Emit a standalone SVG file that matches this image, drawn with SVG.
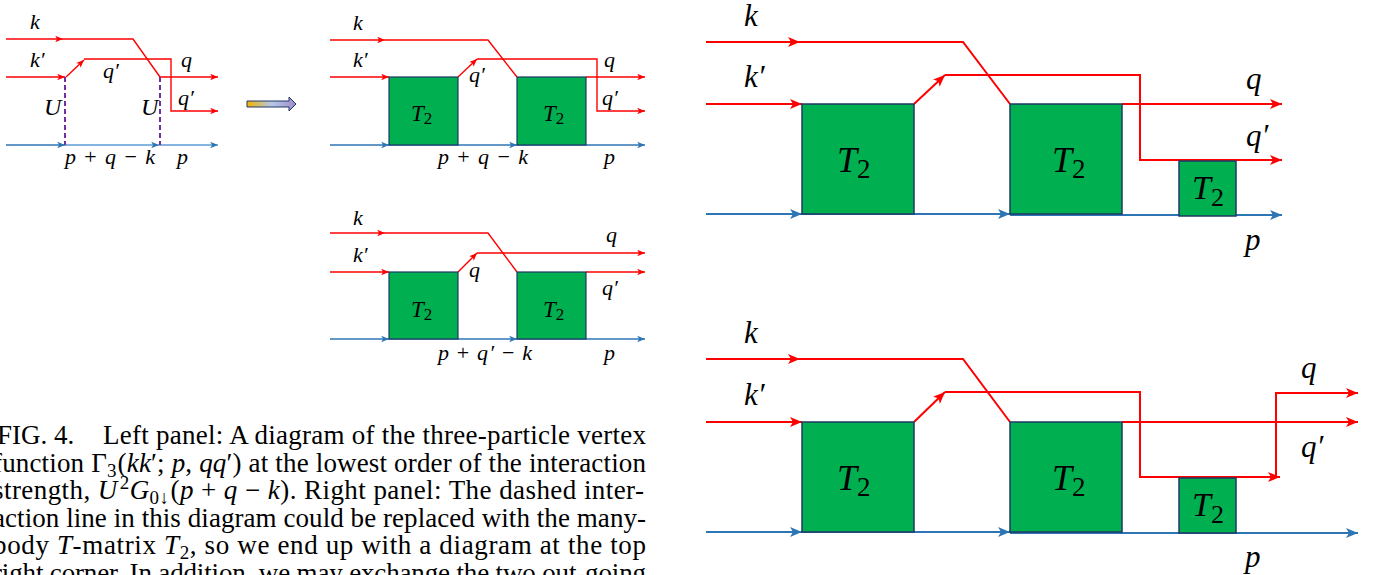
<svg xmlns="http://www.w3.org/2000/svg" width="1377" height="575" viewBox="0 0 1377 575">
<style>
.r{stroke:#ff0000;fill:none;stroke-width:2}
.rs{stroke:#ff0000;fill:none;stroke-width:1.4}
.b{stroke:#2e75b6;fill:none;stroke-width:2}
.bs{stroke:#2e75b6;fill:none;stroke-width:1.4}
.bl{stroke:#5b9bd5;fill:none;stroke-width:1.4}
.dash{stroke:#7030a0;fill:none;stroke-width:2;stroke-dasharray:5 3}
.box{fill:#00b050;stroke:#1f3864;stroke-width:1.5}
.boxs{fill:#00b050;stroke:#1f3864;stroke-width:1.2}
.m{font-family:"Liberation Serif",serif;font-style:italic;fill:#000}
.up{font-style:normal}
.cap{font-family:"Liberation Serif",serif;font-size:27px;fill:#000}
.it{font-style:italic}
</style>
<defs>
<marker id="aR" viewBox="0 0 12 10" markerWidth="12" markerHeight="10" refX="12" refY="5" orient="auto" markerUnits="userSpaceOnUse"><path d="M0,0 L12,5 L0,10 L3,5 z" fill="#ff0000"/></marker>
<marker id="aB" viewBox="0 0 12 10" markerWidth="12" markerHeight="10" refX="12" refY="5" orient="auto" markerUnits="userSpaceOnUse"><path d="M0,0 L12,5 L0,10 L3,5 z" fill="#2e75b6"/></marker>
<marker id="aRs" viewBox="0 0 12 10" markerWidth="8" markerHeight="6.5" refX="12" refY="5" orient="auto" markerUnits="userSpaceOnUse"><path d="M0,0 L12,5 L0,10 L3,5 z" fill="#ff0000"/></marker>
<marker id="aBs" viewBox="0 0 12 10" markerWidth="8" markerHeight="6.5" refX="12" refY="5" orient="auto" markerUnits="userSpaceOnUse"><path d="M0,0 L12,5 L0,10 L3,5 z" fill="#2e75b6"/></marker>
<linearGradient id="grad" x1="0" y1="0" x2="1" y2="0">
<stop offset="0" stop-color="#f2b400"/>
<stop offset="0.5" stop-color="#b4c7e7"/>
<stop offset="1" stop-color="#a08ccc"/>
</linearGradient>
</defs>
<rect width="1377" height="575" fill="#ffffff"/>

<g id="connectors">
<!-- left panel -->
<path class="rs" d="M6,39 H63" marker-end="url(#aRs)"/>
<path class="rs" d="M63,39 H133 L160,77"/>
<path class="rs" d="M6,77 H65" marker-end="url(#aRs)"/>
<path class="rs" d="M66,77 L84,60" marker-end="url(#aRs)"/>
<path class="rs" d="M84,59 H171 V111 H218" marker-end="url(#aRs)"/>
<path class="rs" d="M160,77 H218" marker-end="url(#aRs)"/>
<path class="bs" d="M6,145 H65" marker-end="url(#aBs)"/>
<path class="bl" d="M65,145 H159" marker-end="url(#aBs)"/>
<path class="bl" d="M159,145 H218" marker-end="url(#aBs)"/>
<path class="dash" d="M65,77 V145"/>
<path class="dash" d="M160,77 V145"/>
<path d="M247,101 H289 V97 L296,104 L289,111 V107 H247 Z" fill="url(#grad)" stroke="#1f3864" stroke-width="1"/>
<!-- middle top -->
<path class="rs" d="M330,40 H385" marker-end="url(#aRs)"/>
<path class="rs" d="M385,40 H488 L517,77"/>
<path class="rs" d="M330,77 H389" marker-end="url(#aRs)"/>
<path class="rs" d="M458,77 L477,59" marker-end="url(#aRs)"/>
<path class="rs" d="M477,59 H597 V111 H645" marker-end="url(#aRs)"/>
<path class="rs" d="M586,77 H645" marker-end="url(#aRs)"/>
<path class="bs" d="M330,145 H389" marker-end="url(#aBs)"/>
<path class="bs" d="M389,145 H517" marker-end="url(#aBs)"/>
<path class="bs" d="M517,145 H645" marker-end="url(#aBs)"/>
<!-- middle bottom -->
<path class="rs" d="M330,233 H385" marker-end="url(#aRs)"/>
<path class="rs" d="M385,233 H488 L517,272"/>
<path class="rs" d="M330,272 H389" marker-end="url(#aRs)"/>
<path class="rs" d="M458,272 L477,253" marker-end="url(#aRs)"/>
<path class="rs" d="M477,253 H645" marker-end="url(#aRs)"/>
<path class="rs" d="M586,272 H645" marker-end="url(#aRs)"/>
<path class="bs" d="M330,339 H389" marker-end="url(#aBs)"/>
<path class="bs" d="M389,339 H517" marker-end="url(#aBs)"/>
<path class="bs" d="M517,339 H645" marker-end="url(#aBs)"/>
<!-- right top -->
<path class="r" d="M706,42 H800" marker-end="url(#aR)"/>
<path class="r" d="M800,42 H963 L1010,104"/>
<path class="r" d="M706,104 H802" marker-end="url(#aR)"/>
<path class="r" d="M914,104 L945,75" marker-end="url(#aR)"/>
<path class="r" d="M945,75 H1140 V160 H1282" marker-end="url(#aR)"/>
<path class="r" d="M1122,104 H1282" marker-end="url(#aR)"/>
<path class="b" d="M706,214 H802" marker-end="url(#aB)"/>
<path class="b" d="M802,214 H1010" marker-end="url(#aB)"/>
<path class="b" d="M1010,215 H1282" marker-end="url(#aB)"/>
<!-- right bottom -->
<path class="r" d="M706,359 H800" marker-end="url(#aR)"/>
<path class="r" d="M800,359 H963 L1010,422"/>
<path class="r" d="M706,422 H802" marker-end="url(#aR)"/>
<path class="r" d="M914,422 L945,392" marker-end="url(#aR)"/>
<path class="r" d="M945,392 H1140 V477 H1280" marker-end="url(#aR)"/>
<path class="r" d="M1276,477 V393 H1358" marker-end="url(#aR)"/>
<path class="r" d="M1122,422 H1358" marker-end="url(#aR)"/>
<path class="b" d="M706,532 H802" marker-end="url(#aB)"/>
<path class="b" d="M802,532 H1010" marker-end="url(#aB)"/>
<path class="b" d="M1010,533 H1358" marker-end="url(#aB)"/>
</g>

<g id="left-panel-labels" class="m" font-size="22">
<text x="30" y="29">k</text>
<text x="30" y="67">k′</text>
<text x="103" y="78">q′</text>
<text x="181" y="67">q</text>
<text x="178" y="105">q′</text>
<text x="44" y="115" font-size="24">U</text>
<text x="141" y="115" font-size="24">U</text>
<text x="65" y="164" textLength="90">p <tspan class="up">+</tspan> q <tspan class="up">−</tspan> k</text>
<text x="177" y="164">p</text>
</g>

<g id="mt-box1"><rect class="boxs" x="389" y="77" width="69" height="68"/><text class="m" x="411" y="121" font-size="23">T<tspan class="up" font-size="17" dy="3">2</tspan></text></g>
<g id="mt-box2"><rect class="boxs" x="517" y="77" width="69" height="68"/><text class="m" x="543" y="121" font-size="23">T<tspan class="up" font-size="17" dy="3">2</tspan></text></g>
<g id="mt-labels" class="m" font-size="22">
<text x="353" y="30">k</text>
<text x="353" y="67">k′</text>
<text x="469" y="82">q′</text>
<text x="604" y="67">q</text>
<text x="602" y="105">q′</text>
<text x="438" y="164" textLength="90">p <tspan class="up">+</tspan> q <tspan class="up">−</tspan> k</text>
<text x="604" y="164">p</text>
</g>

<g id="mb-box1"><rect class="boxs" x="389" y="272" width="69" height="67"/><text class="m" x="411" y="317" font-size="23">T<tspan class="up" font-size="17" dy="3">2</tspan></text></g>
<g id="mb-box2"><rect class="boxs" x="517" y="272" width="69" height="67"/><text class="m" x="543" y="317" font-size="23">T<tspan class="up" font-size="17" dy="3">2</tspan></text></g>
<g id="mb-labels" class="m" font-size="22">
<text x="353" y="225">k</text>
<text x="353" y="262">k′</text>
<text x="469" y="277">q</text>
<text x="606" y="242">q</text>
<text x="602" y="295">q′</text>
<text x="438" y="360" textLength="94">p <tspan class="up">+</tspan> q′ <tspan class="up">−</tspan> k</text>
<text x="604" y="360">p</text>
</g>

<g id="rt-box1"><rect class="box" x="802" y="104" width="112" height="110"/><text class="m" x="837" y="172" font-size="36">T<tspan class="up" font-size="27" dy="6">2</tspan></text></g>
<g id="rt-box2"><rect class="box" x="1010" y="104" width="112" height="110"/><text class="m" x="1052" y="172" font-size="36">T<tspan class="up" font-size="27" dy="6">2</tspan></text></g>
<g id="rt-box3"><rect class="box" x="1179" y="161" width="57" height="55"/><text class="m" x="1192" y="199" font-size="34">T<tspan class="up" font-size="26" dy="7">2</tspan></text></g>
<g id="rt-labels" class="m" font-size="31">
<text x="744" y="26">k</text>
<text x="744" y="87">k′</text>
<text x="1246" y="89">q</text>
<text x="1246" y="146">q′</text>
<text x="1245" y="250">p</text>
</g>

<g id="rb-box1"><rect class="box" x="802" y="422" width="112" height="110"/><text class="m" x="837" y="490" font-size="36">T<tspan class="up" font-size="27" dy="6">2</tspan></text></g>
<g id="rb-box2"><rect class="box" x="1010" y="422" width="112" height="110"/><text class="m" x="1052" y="490" font-size="36">T<tspan class="up" font-size="27" dy="6">2</tspan></text></g>
<g id="rb-box3"><rect class="box" x="1179" y="478" width="57" height="55"/><text class="m" x="1192" y="516" font-size="34">T<tspan class="up" font-size="26" dy="7">2</tspan></text></g>
<g id="rb-labels" class="m" font-size="31">
<text x="744" y="343">k</text>
<text x="744" y="405">k′</text>
<text x="1301" y="378">q</text>
<text x="1301" y="457">q′</text>
<text x="1245" y="567">p</text>
</g>

<g id="caption">
<text class="cap" x="-3" y="444">FIG. 4.</text>
<text class="cap" x="103" y="444" textLength="543">Left panel: A diagram of the three-particle vertex</text>
<text class="cap" x="-7" y="471.5" textLength="653">function Γ<tspan font-size="19" dy="5">3</tspan><tspan dx="1" dy="-5">(</tspan><tspan class="it">kk</tspan>′; <tspan class="it">p</tspan>, <tspan class="it">qq</tspan>′) at the lowest order of the interaction</text>
<text class="cap" x="-7" y="499" textLength="651"><tspan>strength, </tspan><tspan class="it">U</tspan><tspan font-size="19" dx="2" dy="-10">2</tspan><tspan class="it" dy="10">G</tspan><tspan font-size="19" dy="5">0↓</tspan><tspan dx="1" dy="-5">(</tspan><tspan class="it">p</tspan> + <tspan class="it">q</tspan> − <tspan class="it">k</tspan>). Right panel: The dashed inter-</text>
<text class="cap" x="-7" y="526.5" textLength="653">action line in this diagram could be replaced with the many-</text>
<text class="cap" x="-7" y="554" textLength="653">body <tspan class="it">T</tspan>-matrix <tspan class="it">T</tspan><tspan font-size="19" dy="5">2</tspan><tspan dy="-5">, so we end up with a diagram at the top</tspan></text>
<text class="cap" x="-7" y="581.5" textLength="653">right corner. In addition, we may exchange the two out-going</text>
</g>
</svg>
